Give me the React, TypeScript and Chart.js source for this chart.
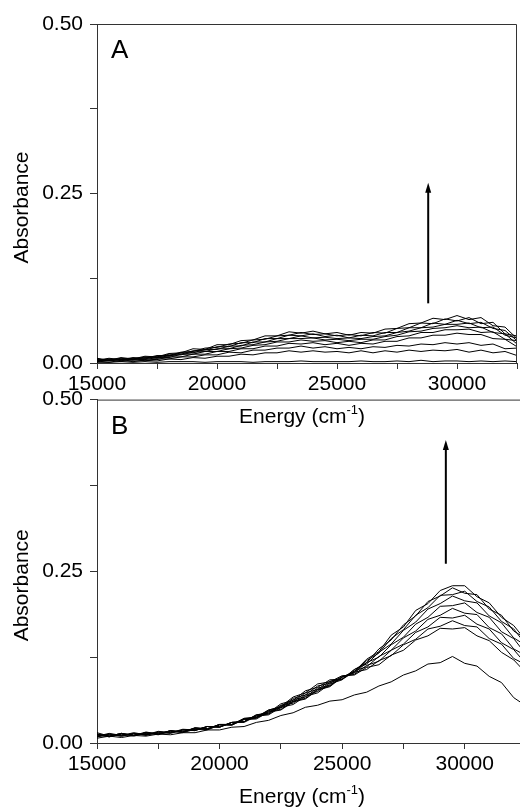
import React, { useEffect, useRef } from "react";
import { Chart, registerables } from "chart.js";

Chart.register(...registerables);

// ---- data ----
const energies = [
  15000, 15500, 16000, 16500, 17000, 17500, 18000, 18500, 19000, 19500,
  20000, 20500, 21000, 21500, 22000, 22500, 23000, 23500, 24000, 24500,
  25000, 25500, 26000, 26500, 27000, 27500, 28000, 28500, 29000, 29500,
  30000, 30500, 31000, 31500, 32000, 32500,
];

// Panel A spectra
const specA1 = [.007,.004,.008,.006,.010,.009,.014,.015,.021,.020,.027,.027,.033,.034,.040,.040,.046,.044,.047,.043,.045,.041,.045,.044,.050,.051,.058,.059,.066,.064,.070,.064,.067,.055,.053,.036];
const specA2 = [.004,.007,.005,.008,.007,.011,.011,.016,.017,.022,.023,.028,.029,.034,.035,.040,.041,.045,.042,.043,.040,.042,.040,.045,.044,.051,.052,.059,.058,.065,.062,.067,.058,.060,.043,.040];
const specA3 = [.006,.004,.007,.005,.009,.008,.013,.013,.018,.019,.024,.024,.030,.030,.036,.036,.041,.040,.043,.039,.041,.037,.041,.040,.045,.045,.052,.052,.059,.057,.063,.058,.060,.051,.048,.033];
const specA4 = [.004,.006,.005,.007,.006,.010,.010,.015,.015,.020,.020,.025,.025,.031,.031,.036,.036,.040,.037,.038,.036,.037,.036,.039,.040,.045,.047,.052,.053,.057,.057,.059,.052,.053,.041,.037];
const specA5 = [.005,.004,.006,.005,.008,.007,.011,.012,.016,.017,.021,.021,.026,.027,.031,.032,.036,.036,.037,.034,.035,.033,.035,.035,.039,.041,.046,.047,.051,.052,.055,.052,.053,.045,.043,.028];
const specA6 = [.003,.005,.004,.006,.005,.008,.008,.013,.013,.017,.017,.021,.022,.026,.027,.031,.031,.034,.032,.033,.030,.032,.030,.034,.034,.039,.040,.045,.045,.049,.049,.050,.045,.046,.035,.033];
const specA7 = [.004,.003,.005,.004,.006,.005,.009,.009,.013,.013,.017,.017,.021,.021,.025,.025,.029,.028,.030,.027,.029,.026,.029,.028,.032,.032,.037,.037,.041,.041,.044,.042,.042,.036,.035,.024];
const specA8 = [.002,.004,.002,.005,.003,.006,.006,.009,.009,.012,.012,.016,.015,.019,.019,.022,.022,.025,.022,.024,.021,.023,.021,.024,.023,.026,.025,.028,.027,.030,.028,.030,.026,.028,.021,.022];
const specA9 = [.003,.001,.004,.002,.004,.003,.006,.005,.008,.007,.010,.010,.013,.012,.015,.015,.018,.016,.018,.016,.017,.015,.018,.015,.018,.016,.019,.017,.019,.018,.020,.016,.019,.015,.017,.011];
const specA10 = [.001,.001,.002,.001,.002,.001,.002,.002,.002,.001,.002,.002,.002,.001,.002,.002,.002,.003,.002,.002,.002,.002,.003,.002,.002,.003,.002,.004,.002,.003,.003,.002,.003,.002,.003,.002];

// Panel B spectra
const specB1 = [.015,.010,.014,.011,.016,.013,.018,.016,.022,.020,.027,.026,.034,.035,.045,.048,.060,.064,.077,.082,.096,.104,.122,.133,.157,.169,.193,.203,.222,.229,.229,.213,.204,.183,.171,.149];
const specB2 = [.010,.014,.011,.015,.012,.017,.015,.020,.019,.024,.023,.030,.030,.039,.041,.052,.056,.068,.073,.086,.092,.107,.117,.137,.150,.172,.185,.206,.214,.226,.218,.216,.195,.186,.163,.152];
const specB3 = [.013,.010,.014,.011,.015,.013,.018,.016,.022,.021,.027,.027,.035,.036,.046,.049,.061,.065,.078,.083,.096,.103,.120,.131,.152,.165,.186,.197,.215,.216,.221,.206,.198,.177,.166,.143];
const specB4 = [.010,.013,.011,.014,.012,.016,.015,.019,.019,.024,.024,.030,.031,.040,.042,.054,.058,.070,.075,.088,.093,.107,.115,.132,.144,.164,.176,.195,.203,.214,.207,.204,.185,.175,.153,.142];
const specB5 = [.012,.009,.013,.011,.015,.013,.017,.016,.021,.020,.027,.027,.035,.037,.047,.051,.063,.067,.080,.084,.096,.102,.117,.125,.143,.154,.173,.183,.199,.200,.204,.190,.183,.162,.152,.129];
const specB6 = [.009,.013,.010,.014,.011,.016,.015,.019,.018,.024,.023,.030,.031,.041,.043,.055,.060,.073,.078,.090,.093,.105,.111,.126,.135,.153,.163,.180,.186,.196,.189,.187,.168,.159,.137,.127];
const specB7 = [.013,.010,.014,.011,.015,.013,.018,.016,.022,.020,.027,.027,.036,.038,.048,.052,.065,.070,.083,.087,.097,.100,.113,.119,.135,.144,.161,.169,.183,.182,.186,.173,.166,.146,.136,.115];
const specB8 = [.009,.012,.010,.013,.012,.015,.014,.019,.018,.024,.023,.030,.031,.041,.044,.057,.062,.076,.081,.092,.093,.103,.107,.120,.127,.143,.151,.166,.170,.178,.171,.169,.152,.144,.123,.114];
const specB9 = [.012,.009,.013,.010,.014,.012,.017,.015,.020,.019,.026,.026,.035,.037,.048,.053,.067,.073,.086,.089,.098,.099,.110,.114,.128,.135,.150,.156,.167,.166,.168,.156,.149,.132,.121,.102];
const specB10 = [.007,.010,.008,.011,.010,.013,.012,.015,.015,.019,.019,.023,.024,.030,.033,.040,.044,.052,.055,.061,.063,.070,.074,.083,.089,.099,.105,.115,.117,.126,.116,.112,.097,.088,.066,.054];

const spectraA = [specA1, specA2, specA3, specA4, specA5, specA6, specA7, specA8, specA9, specA10];
const spectraB = [specB1, specB2, specB3, specB4, specB5, specB6, specB7, specB8, specB9, specB10];

const xMin = 15000;
const xMax = 32500;
const yMin = 0;
const yMax = 0.5;
const xStep = 2500;
const yStep = 0.125;
const xLabelEvery = 5000;
const yLabelEvery = 0.25;

// arrows [energy, from absorbance, to absorbance]
const arrowA = [28800, 0.088, 0.266];
const arrowB = [29230, 0.261, 0.441];

const panelLabelA = "A";
const panelLabelB = "B";
const xTitle = "Energy (cm";
const xTitleSup = "-1";
const yTitle = "Absorbance";

const FONT = "'Liberation Sans', Arial, Helvetica, sans-serif";
const AXIS_COLOR = "#333";

const decorPlugin = {
  id: "decor",
  afterDraw(chart: any) {
    const o = chart.options.plugins.decor;
    if (!o) return;
    const ctx = chart.ctx;
    const a = chart.chartArea;
    const xs = chart.scales.x;
    const ys = chart.scales.y;
    ctx.save();
    // box top + right
    ctx.strokeStyle = AXIS_COLOR;
    ctx.lineWidth = 1;
    ctx.beginPath();
    ctx.moveTo(a.left, a.top + 0.5);
    ctx.lineTo(a.right - 0.5, a.top + 0.5);
    ctx.lineTo(a.right - 0.5, a.bottom);
    ctx.stroke();
    // arrow
    const ax = xs.getPixelForValue(o.arrow[0]);
    const ay0 = ys.getPixelForValue(o.arrow[1]);
    const ay1 = ys.getPixelForValue(o.arrow[2]);
    ctx.strokeStyle = "#000";
    ctx.fillStyle = "#000";
    ctx.lineWidth = 2;
    ctx.beginPath();
    ctx.moveTo(ax, ay0);
    ctx.lineTo(ax, ay1 + 8);
    ctx.stroke();
    ctx.beginPath();
    ctx.moveTo(ax, ay1);
    ctx.lineTo(ax - 3, ay1 + 10);
    ctx.lineTo(ax + 3, ay1 + 10);
    ctx.closePath();
    ctx.fill();
    // panel label
    ctx.font = `26px ${FONT}`;
    ctx.textAlign = "left";
    ctx.textBaseline = "alphabetic";
    ctx.fillText(o.label, a.left + 14, a.top + 34);
    // y title
    ctx.font = `21px ${FONT}`;
    ctx.save();
    ctx.translate(28, (a.top + a.bottom) / 2 + 14);
    ctx.rotate(-Math.PI / 2);
    ctx.textAlign = "center";
    ctx.fillText(yTitle, 0, 0);
    ctx.restore();
    // x title with superscript
    ctx.font = `21px ${FONT}`;
    const w1 = ctx.measureText(xTitle).width;
    ctx.font = `13px ${FONT}`;
    const w2 = ctx.measureText(xTitleSup).width;
    ctx.font = `21px ${FONT}`;
    const w3 = ctx.measureText(")").width;
    const total = w1 + w2 + w3;
    const cx = o.titleX;
    const base = a.bottom + 60;
    let x = cx - total / 2;
    ctx.textAlign = "left";
    ctx.fillText(xTitle, x, base);
    x += w1;
    ctx.font = `13px ${FONT}`;
    ctx.fillText(xTitleSup, x, base - 9);
    x += w2;
    ctx.font = `21px ${FONT}`;
    ctx.fillText(")", x, base);
    ctx.restore();
  },
};

function makeConfig(spectra: number[][], yAxisWidth: number, xAxisHeight: number, padding: any, decor: any) {
  return {
    type: "line",
    data: {
      datasets: spectra.map((s) => ({
        data: s.map((v, i) => ({ x: energies[i], y: v })),
        borderColor: "#000",
        borderWidth: 1,
        pointRadius: 0,
        tension: 0,
        fill: false,
      })),
    },
    options: {
      responsive: false,
      animation: false,
      events: [],
      layout: { padding },
      plugins: {
        legend: { display: false },
        tooltip: { enabled: false },
        decor,
      },
      scales: {
        x: {
          type: "linear",
          min: xMin,
          max: xMax,
          afterFit: (s: any) => { s.height = xAxisHeight; },
          ticks: {
            stepSize: xStep,
            autoSkip: false,
            maxRotation: 0,
            padding: 3,
            color: "#000",
            font: { family: FONT, size: 21 },
            callback: (v: number) => (v % xLabelEvery === 0 ? String(v) : ""),
          },
          grid: { drawOnChartArea: false, drawTicks: true, tickLength: 6, color: AXIS_COLOR },
          border: { color: AXIS_COLOR, width: 1 },
        },
        y: {
          type: "linear",
          min: yMin,
          max: yMax,
          afterFit: (s: any) => { s.width = yAxisWidth; },
          ticks: {
            stepSize: yStep,
            autoSkip: false,
            padding: 7,
            color: "#000",
            font: { family: FONT, size: 21 },
            callback: (v: number) => (Math.abs(v / yLabelEvery - Math.round(v / yLabelEvery)) < 1e-6 ? v.toFixed(2) : ""),
          },
          grid: { drawOnChartArea: false, drawTicks: true, tickLength: 7, color: AXIS_COLOR },
          border: { color: AXIS_COLOR, width: 1 },
        },
      },
    },
    plugins: [decorPlugin],
  };
}

export default function App() {
  const refA = useRef<HTMLCanvasElement>(null);
  const refB = useRef<HTMLCanvasElement>(null);

  useEffect(() => {
    const chartA = new Chart(
      refA.current as HTMLCanvasElement,
      makeConfig(spectraA, 97, 77, { top: 24, right: 2, left: 0, bottom: 0 }, { arrow: arrowA, label: panelLabelA, titleX: 302 }) as any
    );
    const chartB = new Chart(
      refB.current as HTMLCanvasElement,
      makeConfig(spectraB, 97, 67, { top: 17, right: 14, left: 0, bottom: 0 }, { arrow: arrowB, label: panelLabelB, titleX: 302 }) as any
    );
    return () => {
      chartA.destroy();
      chartB.destroy();
    };
  }, []);

  return (
    <div style={{ position: "fixed", left: 0, top: 0, width: 520, height: 810, overflow: "hidden", background: "#fff" }}>
      <canvas ref={refB} width={540} height={430} style={{ position: "absolute", left: 0, top: 380, width: 540, height: 430 }} />
      <canvas ref={refA} width={520} height={440} style={{ position: "absolute", left: 0, top: 0, width: 520, height: 440 }} />
    </div>
  );
}
